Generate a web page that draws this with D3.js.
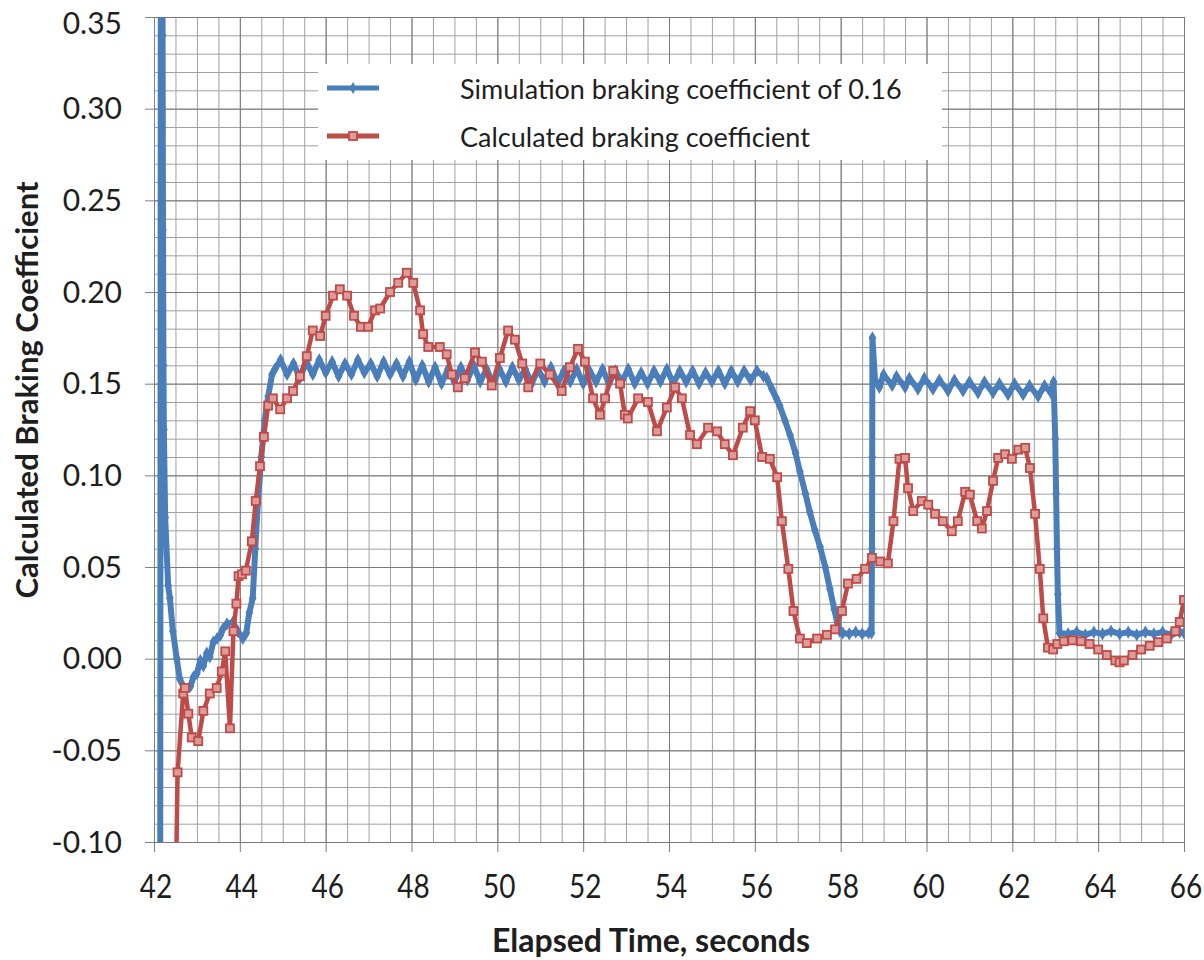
<!DOCTYPE html>
<html>
<head>
<meta charset="utf-8">
<script src="https://cdn.jsdelivr.net/npm/d3@7"></script>
<style>
  body { margin: 0; background: #fff; }
  text { font-family: Lato, "Open Sans", sans-serif; fill: #1e1e1e; }
</style>
</head>
<body>
<svg id="chart" width="1204" height="960"></svg>
<script>
// axis ticks
const xTicks = [42, 44, 46, 48, 50, 52, 54, 56, 58, 60, 62, 64, 66];
const yTicks = [-0.10, -0.05, 0.00, 0.05, 0.10, 0.15, 0.20, 0.25, 0.30, 0.35];

const legendLabels = [
  "Simulation braking coefficient of 0.16",
  "Calculated braking coefficient"
];

// blue series: [seconds, coefficient]
const simulationData = [
  [42.14, -0.30], [42.16, 0.45], [42.19, 0.45], [42.20, 0.34], [42.21, 0.234], [42.22, 0.16],
  [42.23, 0.125], [42.26, 0.077], [42.33, 0.04], [42.37, 0.033], [42.44, 0.015],
  [42.53, 0.0], [42.6, -0.011], [42.72, -0.017], [42.85, -0.015], [42.92, -0.01],
  [43.0, -0.008], [43.08, -0.001], [43.15, -0.004], [43.23, 0.003], [43.3, 0.001],
  [43.38, 0.009], [43.47, 0.011], [43.55, 0.013], [43.6, 0.016], [43.7, 0.019],
  [43.84, 0.02], [43.95, 0.015], [44.07, 0.011], [44.15, 0.014], [44.22, 0.025],
  [44.3, 0.033], [44.36, 0.06], [44.42, 0.085], [44.5, 0.11], [44.58, 0.13],
  [44.66, 0.143], [44.75, 0.155],
  [44.82, 0.158], [44.95, 0.163], [45.1, 0.155], [45.25, 0.161], [45.4, 0.153],
  [45.55, 0.162], [45.7, 0.155], [45.85, 0.163], [46.0, 0.156], [46.15, 0.162],
  [46.3, 0.154], [46.45, 0.161], [46.6, 0.155], [46.75, 0.163], [46.9, 0.156],
  [47.05, 0.161], [47.2, 0.154], [47.35, 0.162], [47.5, 0.155], [47.65, 0.161],
  [47.8, 0.154], [47.95, 0.162], [48.1, 0.152], [48.25, 0.160], [48.4, 0.151],
  [48.55, 0.159], [48.7, 0.150], [48.85, 0.158], [49.0, 0.151], [49.15, 0.159],
  [49.3, 0.152], [49.45, 0.160], [49.6, 0.151], [49.75, 0.158], [49.9, 0.150],
  [50.05, 0.158], [50.2, 0.151], [50.35, 0.159], [50.5, 0.152], [50.65, 0.158],
  [50.8, 0.150], [50.95, 0.158], [51.1, 0.151], [51.25, 0.159], [51.4, 0.150],
  [51.55, 0.157], [51.7, 0.151], [51.85, 0.158], [52.0, 0.150], [52.15, 0.157],
  [52.3, 0.151], [52.45, 0.158], [52.6, 0.150], [52.75, 0.157], [52.9, 0.151],
  [53.05, 0.158], [53.2, 0.150], [53.35, 0.156], [53.5, 0.150], [53.65, 0.157],
  [53.8, 0.151], [53.95, 0.158], [54.1, 0.150], [54.25, 0.157], [54.4, 0.151],
  [54.55, 0.157], [54.7, 0.150], [54.85, 0.156], [55.0, 0.151], [55.15, 0.157],
  [55.3, 0.150], [55.45, 0.157], [55.6, 0.151], [55.75, 0.157], [55.9, 0.152],
  [56.05, 0.157], [56.2, 0.154],
  [56.28, 0.153], [56.4, 0.147], [56.5, 0.142], [56.58, 0.138], [56.7, 0.13],
  [56.82, 0.122], [56.95, 0.112], [57.05, 0.102], [57.18, 0.09], [57.28, 0.08],
  [57.4, 0.07], [57.52, 0.061], [57.64, 0.05], [57.75, 0.038], [57.85, 0.027],
  [57.92, 0.02], [57.98, 0.015], [58.05, 0.014], [58.2, 0.0135], [58.35, 0.0145],
  [58.5, 0.0135], [58.65, 0.014], [58.72, 0.014], [58.73, 0.06], [58.735, 0.11],
  [58.74, 0.175], [58.8, 0.152],
  [58.9, 0.148], [59.0, 0.155], [59.2, 0.149], [59.3, 0.154], [59.5, 0.148],
  [59.6, 0.153], [59.8, 0.147], [59.95, 0.153], [60.15, 0.147], [60.3, 0.152],
  [60.5, 0.146], [60.65, 0.152], [60.85, 0.146], [61.0, 0.151], [61.2, 0.145],
  [61.35, 0.151], [61.55, 0.145], [61.7, 0.150], [61.9, 0.144], [62.05, 0.150],
  [62.25, 0.144], [62.4, 0.149], [62.6, 0.143], [62.75, 0.149], [62.9, 0.145],
  [62.96, 0.151], [63.0, 0.12], [63.02, 0.09], [63.04, 0.06], [63.06, 0.035],
  [63.1, 0.014], [63.3, 0.0135], [63.5, 0.0145], [63.7, 0.013], [63.9, 0.0145],
  [64.1, 0.0135], [64.3, 0.015], [64.5, 0.0135], [64.7, 0.0145], [64.9, 0.013],
  [65.1, 0.0145], [65.3, 0.0135], [65.5, 0.0145], [65.7, 0.013], [65.9, 0.0145],
  [66.0, 0.014]
];

// red series: [seconds, coefficient]
const calculatedData = [
  [42.46, -0.20], [42.55, -0.062], [42.68, -0.019], [42.72, -0.016], [42.8, -0.03],
  [42.88, -0.043], [43.03, -0.045], [43.15, -0.0285], [43.3, -0.019], [43.46, -0.016],
  [43.58, -0.007], [43.66, 0.004], [43.77, -0.038], [43.85, 0.015], [43.92, 0.03],
  [43.97, 0.045], [44.05, 0.046], [44.14, 0.048], [44.28, 0.064], [44.37, 0.086],
  [44.47, 0.105], [44.56, 0.121], [44.66, 0.138], [44.77, 0.142], [44.94, 0.136],
  [45.1, 0.142], [45.24, 0.146], [45.4, 0.154], [45.56, 0.165], [45.7, 0.179],
  [45.87, 0.176], [46.0, 0.187], [46.17, 0.198], [46.33, 0.2015], [46.5, 0.198],
  [46.66, 0.187], [46.82, 0.181], [46.99, 0.181], [47.15, 0.19], [47.27, 0.191],
  [47.5, 0.2], [47.69, 0.205], [47.89, 0.2105], [48.04, 0.205], [48.2, 0.19],
  [48.27, 0.177], [48.39, 0.17], [48.66, 0.17], [48.82, 0.166], [48.94, 0.155],
  [49.08, 0.148], [49.24, 0.153], [49.48, 0.167], [49.64, 0.162], [49.87, 0.149],
  [50.06, 0.164], [50.25, 0.179], [50.41, 0.174], [50.58, 0.161], [50.72, 0.148],
  [51.0, 0.161], [51.22, 0.155], [51.5, 0.146], [51.69, 0.159], [51.88, 0.169],
  [52.04, 0.162], [52.23, 0.142], [52.39, 0.133], [52.51, 0.142], [52.7, 0.157],
  [52.86, 0.15], [52.97, 0.133], [53.04, 0.131], [53.28, 0.142], [53.51, 0.14],
  [53.72, 0.124], [53.95, 0.137], [54.14, 0.148], [54.3, 0.142], [54.49, 0.122],
  [54.65, 0.117], [54.91, 0.126], [55.12, 0.124], [55.3, 0.117], [55.49, 0.111],
  [55.72, 0.126], [55.89, 0.135], [56.0, 0.13], [56.17, 0.11], [56.35, 0.109],
  [56.52, 0.099], [56.63, 0.075], [56.78, 0.049], [56.9, 0.026], [57.05, 0.011],
  [57.21, 0.0085], [57.45, 0.011], [57.68, 0.013], [57.87, 0.016], [58.03, 0.026],
  [58.17, 0.041], [58.37, 0.0435], [58.57, 0.049], [58.73, 0.055], [58.92, 0.053],
  [59.1, 0.052], [59.23, 0.075], [59.37, 0.109], [59.5, 0.1095], [59.57, 0.093],
  [59.69, 0.0805], [59.89, 0.086], [60.04, 0.084], [60.2, 0.079], [60.38, 0.075],
  [60.59, 0.0695], [60.73, 0.075], [60.9, 0.091], [61.01, 0.0895], [61.18, 0.075],
  [61.29, 0.071], [61.41, 0.0805], [61.55, 0.097], [61.67, 0.1095], [61.83, 0.1115],
  [61.99, 0.109], [62.14, 0.114], [62.3, 0.115], [62.41, 0.104], [62.53, 0.079],
  [62.64, 0.049], [62.72, 0.022], [62.83, 0.006], [62.95, 0.005], [63.05, 0.008],
  [63.2, 0.0095], [63.4, 0.010], [63.6, 0.0095], [63.8, 0.008], [64.0, 0.005],
  [64.2, 0.002], [64.4, -0.001], [64.5, -0.002], [64.6, -0.001], [64.8, 0.002],
  [65.0, 0.005], [65.2, 0.007], [65.4, 0.009], [65.6, 0.011], [65.8, 0.015],
  [65.9, 0.02], [66.0, 0.032]
];

let svg = d3.select("#chart");
let margin = { left: 154, right: 20, top: 17, bottom: 118 };
let width = +svg.attr("width") - margin.left - margin.right;
let height = +svg.attr("height") - margin.top - margin.bottom;

let g = svg.append("g")
  .attr("transform", "translate(" + margin.left + "," + margin.top + ")");

let x = d3.scaleLinear().domain([42, 66]).range([0, width]);
let y = d3.scaleLinear().domain([-0.10, 0.35]).range([height, 0]);

// minor grid
g.append("g")
  .attr("transform", "translate(0," + height + ")")
  .call(d3.axisBottom(x).tickValues(d3.range(42, 66.01, 0.5)).tickSize(-height).tickFormat(""))
  .call(a => a.select(".domain").remove())
  .selectAll("line").attr("stroke", "#a0a0a0");

g.append("g")
  .call(d3.axisLeft(y).tickValues(d3.range(-10, 36).map(d => d / 100)).tickSize(-width).tickFormat(""))
  .call(a => a.select(".domain").remove())
  .selectAll("line").attr("stroke", "#a0a0a0");

// major grid + ticks
let xAxis = g.append("g")
  .attr("transform", "translate(0," + height + ")")
  .call(d3.axisBottom(x).tickValues(xTicks).tickSize(10).tickFormat(""));
xAxis.select(".domain").attr("stroke", "#808080");
xAxis.selectAll("line").attr("stroke", "#808080");
xAxis.selectAll(".tick").append("line")
  .attr("y1", 0).attr("y2", -height).attr("stroke", "#7a7a7a");

let yAxis = g.append("g")
  .call(d3.axisLeft(y).tickValues(yTicks).tickSize(9).tickFormat(""));
yAxis.select(".domain").attr("stroke", "#808080");
yAxis.selectAll("line").attr("stroke", "#808080");
yAxis.selectAll(".tick").append("line")
  .attr("x1", 0).attr("x2", width).attr("stroke", "#7a7a7a");

// tick labels
g.selectAll(".xlab")
  .data(xTicks)
  .enter()
  .append("text")
  .attr("class", "xlab")
  .attr("transform", d => "translate(" + (x(d) + 2) + "," + (height + 56) + ") scale(1,1.2)")
  .attr("text-anchor", "middle")
  .attr("font-size", "28px")
  .text(d => d);

// top label sits a little lower so it stays inside the page
g.selectAll(".ylab")
  .data(yTicks)
  .enter()
  .append("text")
  .attr("class", "ylab")
  .attr("x", -32)
  .attr("y", d => y(d) + (d === 0.35 ? 6 : 0))
  .attr("dy", "0.36em")
  .attr("text-anchor", "end")
  .attr("font-size", "30px")
  .text(d => d.toFixed(2));

// axis titles
svg.append("text")
  .attr("x", 651)
  .attr("y", 952)
  .attr("text-anchor", "middle")
  .attr("font-size", "32px")
  .attr("font-weight", "bold")
  .text("Elapsed Time, seconds");

svg.append("text")
  .attr("transform", "translate(38,390) rotate(-90)")
  .attr("text-anchor", "middle")
  .attr("font-size", "31px")
  .attr("font-weight", "bold")
  .text("Calculated Braking Coefficient");

// series
g.append("clipPath").attr("id", "plot-clip")
  .append("rect").attr("width", width).attr("height", height);

let plot = g.append("g").attr("clip-path", "url(#plot-clip)");

let line = d3.line().x(d => x(d[0])).y(d => y(d[1]));

let blue = "#4a7ebb";
let red = "#be4b48";

plot.append("path")
  .datum(simulationData)
  .attr("fill", "none")
  .attr("stroke", blue)
  .attr("stroke-width", 6)
  .attr("stroke-linejoin", "round")
  .attr("d", line);

plot.selectAll(".sim-pt")
  .data(simulationData)
  .enter()
  .append("path")
  .attr("class", "sim-pt")
  .attr("transform", d => "translate(" + x(d[0]) + "," + y(d[1]) + ")")
  .attr("d", d3.symbol().type(d3.symbolDiamond).size(50))
  .attr("fill", blue);

plot.append("path")
  .datum(calculatedData)
  .attr("fill", "none")
  .attr("stroke", red)
  .attr("stroke-width", 4.5)
  .attr("stroke-linejoin", "round")
  .attr("d", line);

plot.selectAll(".calc-pt")
  .data(calculatedData)
  .enter()
  .append("rect")
  .attr("class", "calc-pt")
  .attr("x", d => x(d[0]) - 4)
  .attr("y", d => y(d[1]) - 4)
  .attr("width", 8)
  .attr("height", 8)
  .attr("fill", "#dd9c9a")
  .attr("stroke", red)
  .attr("stroke-width", 1.8);

// legend
let legend = svg.append("g").attr("class", "legend");

legend.append("rect")
  .attr("x", 318)
  .attr("y", 64)
  .attr("width", 624)
  .attr("height", 96)
  .attr("fill", "#fff");

[blue, red].forEach(function(color, i) {
  let row = legend.append("g")
    .attr("transform", "translate(0," + (88 + i * 48) + ")");
  row.append("line")
    .attr("x1", 327).attr("x2", 379)
    .attr("stroke", color)
    .attr("stroke-width", 5);
  if (i === 0) {
    row.append("path")
      .attr("transform", "translate(353,0)")
      .attr("d", d3.symbol().type(d3.symbolDiamond).size(40))
      .attr("fill", blue);
  } else {
    row.append("rect")
      .attr("x", 349).attr("y", -4)
      .attr("width", 8).attr("height", 8)
      .attr("fill", "#dd9c9a")
      .attr("stroke", red)
      .attr("stroke-width", 1.8);
  }
  row.append("text")
    .attr("x", 460)
    .attr("y", 2)
    .attr("dy", "0.35em")
    .attr("font-size", "27px")
    .text(legendLabels[i]);
});
</script>
</body>
</html>
